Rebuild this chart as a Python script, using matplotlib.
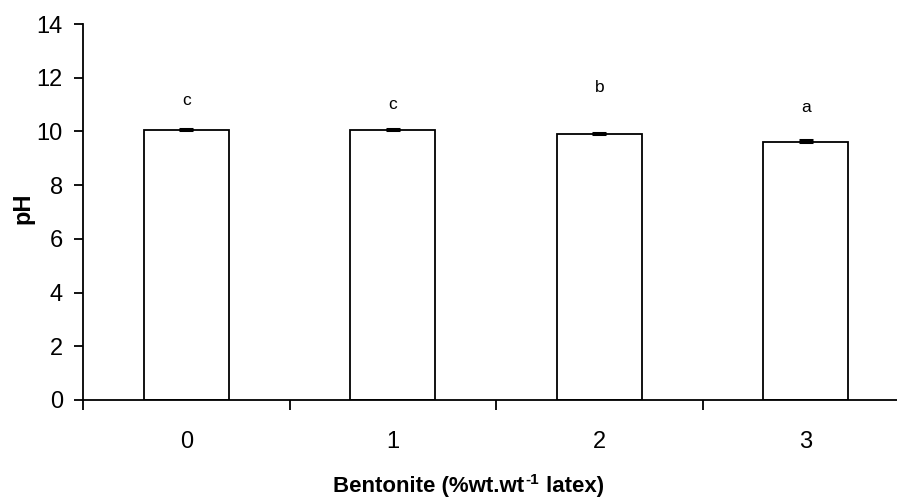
import matplotlib
matplotlib.use("Agg")
import matplotlib.pyplot as plt
import numpy as np

plt.rcParams["font.family"] = ["Liberation Sans", "DejaVu Sans"]

bentonite = ["0", "1", "2", "3"]
ph_mean = [10.05, 10.05, 9.90, 9.62]
ph_err = [0.03, 0.05, 0.03, 0.05]
letters = ["c", "c", "b", "a"]
letter_y = [11.17, 11.0, 11.65, 10.9]

W, H = 897, 501
fig = plt.figure(figsize=(W / 100, H / 100), dpi=100)
# axes: x from px 83 to 909 (runs past right edge), y from px 400 (0) to 24 (14)
ax = fig.add_axes([83 / W, (H - 400) / H, (909 - 83) / W, (400 - 24) / H])

x = np.arange(len(bentonite))
ax.bar(x, ph_mean, width=0.41, color="white", edgecolor="black", linewidth=1.3, zorder=2)
ax.errorbar(x, ph_mean, yerr=[np.zeros(len(x)), ph_err], fmt="none", ecolor="black",
            elinewidth=1.5, capsize=5, capthick=2.2, zorder=3)
for xi, yi, lab in zip(x, letter_y, letters):
    ax.text(xi, yi, lab, ha="center", va="center", fontsize=12.5)

ax.set_xlim(-0.5, 3.5)
ax.set_ylim(0, 14)
ax.set_yticks(np.arange(0, 15, 2))
ax.set_xticks(x)
ax.set_xticklabels(bentonite)
ax.set_xticks(np.arange(-0.5, 4.0, 1.0), minor=True)
ax.tick_params(axis="x", which="major", length=0, pad=22, labelsize=17)
ax.tick_params(axis="x", which="minor", length=7, width=1.3, direction="out")
ax.tick_params(axis="y", length=6.5, width=1.3, pad=8, labelsize=17)

for s in ("top", "right"):
    ax.spines[s].set_visible(False)
for s in ("left", "bottom"):
    ax.spines[s].set_linewidth(1.3)

ax.set_ylabel("pH", fontsize=17, fontweight="bold")
ax.yaxis.set_label_coords(-(83 - 23) / (909 - 83), 0.51)
ax.yaxis.label.set_va("center")

# x label with a small superscript "-1"
t1 = fig.text(333 / W, 1 - 492 / H, "Bentonite (%wt.wt", ha="left", va="baseline",
              fontsize=16, fontweight="bold")
t2 = fig.text(0, 0, "-1", fontsize=11, fontweight="bold", ha="left", va="baseline")
t2.set_transform(matplotlib.transforms.offset_copy(fig.transFigure, fig=fig, x=0, y=0))
fig.canvas.draw()
r = fig.canvas.get_renderer()
bb = t1.get_window_extent(r)
t2.set_position(((bb.x1 + 1) / fig.bbox.width, (H - 492 + 8) / fig.bbox.height))
fig.canvas.draw()
bb2 = t2.get_window_extent(r)
fig.text((bb2.x1 + 1) / fig.bbox.width, 1 - 492 / H, " latex)", ha="left", va="baseline",
         fontsize=16, fontweight="bold")

fig.savefig("out.png", dpi=100)
